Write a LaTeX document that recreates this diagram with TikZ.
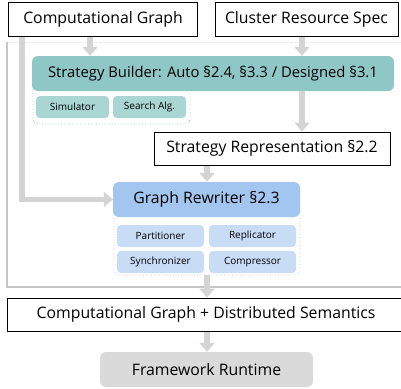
\documentclass[tikz,border=0pt]{standalone}
\usepackage{fontspec}
\setmainfont{Open Sans}
\usetikzlibrary{arrows.meta}
\definecolor{arrowgray}{HTML}{D4D4D4}
\definecolor{teal1}{HTML}{8FC6C6}
\definecolor{teal2}{HTML}{A9D5D3}
\definecolor{blue1}{HTML}{A3C6F1}
\definecolor{blue2}{HTML}{C8DCF6}
\definecolor{rtgray}{HTML}{DADADA}
\tikzset{
  plainbox/.style={draw=black, line width=1pt, fill=white, inner sep=0pt, font=\fontsize{15.8}{18}\selectfont},
  mainbox/.style={rounded corners=6pt, inner sep=0pt, font=\fontsize{15.8}{18}\selectfont},
  subbox/.style={rounded corners=4pt, inner sep=0pt, minimum width=73pt, minimum height=22pt, font=\fontsize{10}{12}\selectfont},
  flow/.style={draw=arrowgray, line width=5.5pt, -{Triangle[width=15pt,length=9pt]}},
  dotframe/.style={dotted, line width=0.7pt, rounded corners=5pt}
}
\begin{document}
\begin{tikzpicture}[x=1pt,y=-1pt]
\useasboundingbox (0,0) rectangle (401,388);
% outer frame
\draw[gray!12, line width=0.8pt] (7,42) rectangle (420,287);
\draw[gray!45, line width=1.2pt] (7,42) -- (7,287) -- (420,287);
% top inputs
\node[plainbox, minimum width=189pt, minimum height=34pt] (cg) at (103,19) {Computational Graph};
\node[plainbox, minimum width=183pt, minimum height=34pt] (crs) at (306.5,19) {Cluster Resource Spec};
% strategy builder
\draw[dotframe, draw=teal1] (33,80) rectangle (190,124);
\node[mainbox, fill=teal1, minimum width=362pt, minimum height=35pt, font=\fontsize{14.8}{17}\selectfont] (sb) at (213,73.5) {Strategy Builder: Auto §2.4, §3.3 / Designed §3.1};
\node[subbox, fill=teal2] (sim) at (72.5,107) {Simulator};
\node[subbox, fill=teal2] (sea) at (149.5,107) {Search Alg.};
% strategy representation
\node[plainbox, minimum width=236pt, minimum height=33pt] (sr) at (272,148.5) {Strategy Representation §2.2};
% graph rewriter
\draw[dotframe, draw=blue1] (114,205) rectangle (300,275);
\node[mainbox, fill=blue1, minimum width=187pt, minimum height=35pt] (gr) at (206.5,199.5) {Graph Rewriter §2.3};
\node[subbox, fill=blue2, minimum width=87pt] (part) at (160.5,236) {Partitioner};
\node[subbox, fill=blue2, minimum width=87pt] (repl) at (252.5,236) {Replicator};
\node[subbox, fill=blue2, minimum width=87pt] (sync) at (160.5,262) {Synchronizer};
\node[subbox, fill=blue2, minimum width=87pt] (comp) at (252.5,262) {Compressor};
% outputs
\node[plainbox, minimum width=398pt, minimum height=33pt] (cgd) at (206,314.5) {Computational Graph + Distributed Semantics};
\node[mainbox, fill=rtgray, minimum width=213pt, minimum height=35pt] (fr) at (206.5,369.5) {Framework Runtime};
% coordinates for arrow columns
\coordinate (xa) at (90,0);
\coordinate (xb) at (302,0);
\coordinate (xc) at (207,0);
\coordinate (xl) at (22,0);
\coordinate (grb) at (207,275);
% arrows
\draw[flow] (cg.south -| xa) -- (sb.north -| xa);
\draw[flow] (crs.south -| xb) -- (sb.north -| xb);
\draw[flow] (sb.south -| xb) -- (sr.north -| xb);
\draw[flow] (sr.south -| xc) -- (gr.north -| xc);
\draw[flow] (cg.south -| xl) |- (gr.west);
\draw[flow] (grb) -- (cgd.north -| xc);
\draw[flow] (cgd.south -| xc) -- (fr.north -| xc);
\end{tikzpicture}
\end{document}
